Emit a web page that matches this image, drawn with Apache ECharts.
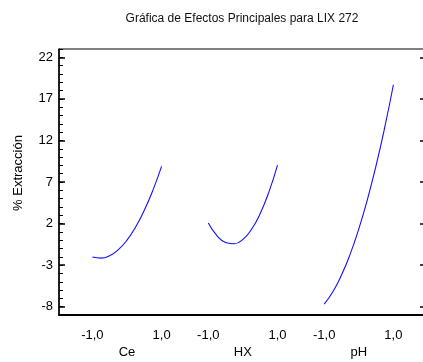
<!DOCTYPE html>
<html>
<head>
<meta charset="utf-8">
<script src="https://cdn.jsdelivr.net/npm/echarts@6/dist/echarts.min.js"></script>
<style>
html,body{margin:0;padding:0;background:#fff;}
#chart{width:423px;height:362px;}
</style>
</head>
<body>
<div id="chart"></div>
<script>
// ---- data ----
var titleText = 'Gráfica de Efectos Principales para LIX 272';
var yName = '% Extracción';
var factorNames = ['Ce', 'HX', 'pH'];
var levelLabels = ['-1,0', '1,0'];
var levels = [-1, -0.75, -0.5, -0.25, 0, 0.25, 0.5, 0.75, 1];
var ceValues = [-2.03, -2.16, -1.86, -1.14, 0.0, 1.59, 3.6, 6.02, 8.88];
var hxValues = [2.06, 0.55, -0.28, -0.43, 0.1, 1.31, 3.21, 5.78, 9.04];
var phValues = [-7.69, -6.21, -4.2, -1.68, 1.36, 4.92, 9.0, 13.59, 18.7];
var yMajorTicks = [-8, -3, 2, 7, 12, 17, 22];
var yMin = -9, yMax = 23;

// ---- layout helpers ----
var panelGap = 3.35;           // horizontal spacing between factor panels (axis units)
var allValues = [ceValues, hxValues, phValues];
var font = "'Liberation Sans', Arial, sans-serif";

var seriesList = allValues.map(function (vals, k) {
  return {
    type: 'line',
    name: factorNames[k],
    xAxisIndex: 0,
    yAxisIndex: 0,
    data: levels.map(function (lv, i) { return [k * panelGap + lv, vals[i]]; }),
    smooth: true,
    showSymbol: false,
    lineStyle: { color: '#1010ff', width: 1.1 },
    silent: true,
    animation: false
  };
});

var levelTickValues = [];
var centerValues = [];
factorNames.forEach(function (n, k) {
  levelTickValues.push(k * panelGap - 1, k * panelGap + 1);
  centerValues.push(k * panelGap);
});
var yMinorTicks = [];
for (var v = yMin; v <= yMax; v++) yMinorTicks.push(v);

function panelOf(val) { return Math.round(val / panelGap); }

var chart = echarts.init(document.getElementById('chart'), null, { renderer: 'canvas' });
chart.setOption({
  animation: false,
  backgroundColor: '#ffffff',
  title: {
    text: titleText,
    left: 237,
    top: 8,
    textAlign: 'center',
    textStyle: { fontFamily: font, fontSize: 12, fontWeight: 'normal', color: '#111' }
  },
  grid: {
    left: 59, top: 49, right: -2, bottom: 47,
    show: true, borderColor: '#000', borderWidth: 1, backgroundColor: 'transparent',
    containLabel: false, outerBoundsMode: 'none'
  },
  xAxis: [
    {
      type: 'value', position: 'bottom', min: -1.965, max: 8.613,
      axisLine: { show: true, onZero: false, lineStyle: { color: '#000', width: 1.8 } },
      axisTick: { show: false },
      splitLine: { show: false },
      axisLabel: {
        customValues: levelTickValues,
        margin: 14,
        color: '#000', fontFamily: font, fontSize: 13,
        formatter: function (val) {
          return (val - panelOf(val) * panelGap) < 0 ? levelLabels[0] : levelLabels[1];
        }
      }
    },
    {
      type: 'value', position: 'bottom', min: -1.965, max: 8.613,
      axisLine: { show: false, onZero: false },
      axisTick: { show: false },
      splitLine: { show: false },
      axisLabel: {
        customValues: centerValues,
        margin: 31,
        color: '#000', fontFamily: font, fontSize: 13,
        formatter: function (val) { return factorNames[panelOf(val)]; }
      }
    }
  ],
  yAxis: [
    {
      type: 'value', position: 'left', min: yMin, max: yMax,
      name: yName, nameLocation: 'middle', nameGap: 34, nameRotate: 90,
      nameTextStyle: { fontFamily: font, fontSize: 13, color: '#000', padding: [0, 0, 0, 18] },
      axisLine: { show: true, onZero: false, lineStyle: { color: '#000', width: 1.5 } },
      axisTick: { show: true, inside: true, length: 6, customValues: yMajorTicks, lineStyle: { color: '#000', width: 1.5 } },
      splitLine: { show: false },
      axisLabel: {
        customValues: yMajorTicks, margin: 6,
        color: '#000', fontFamily: font, fontSize: 13
      }
    },
    {
      type: 'value', position: 'left', min: yMin, max: yMax,
      axisLine: { show: false, onZero: false },
      axisTick: { show: true, inside: true, length: 4, customValues: yMinorTicks, lineStyle: { color: '#000', width: 1 } },
      axisLabel: { show: false },
      splitLine: { show: false }
    },
    {
      type: 'value', position: 'right', min: yMin, max: yMax,
      axisLine: { show: false, onZero: false },
      axisTick: { show: true, inside: true, length: 5, customValues: yMajorTicks, lineStyle: { color: '#000', width: 1.5 } },
      axisLabel: { show: false },
      splitLine: { show: false }
    }
  ],
  series: seriesList
});
</script>
</body>
</html>
